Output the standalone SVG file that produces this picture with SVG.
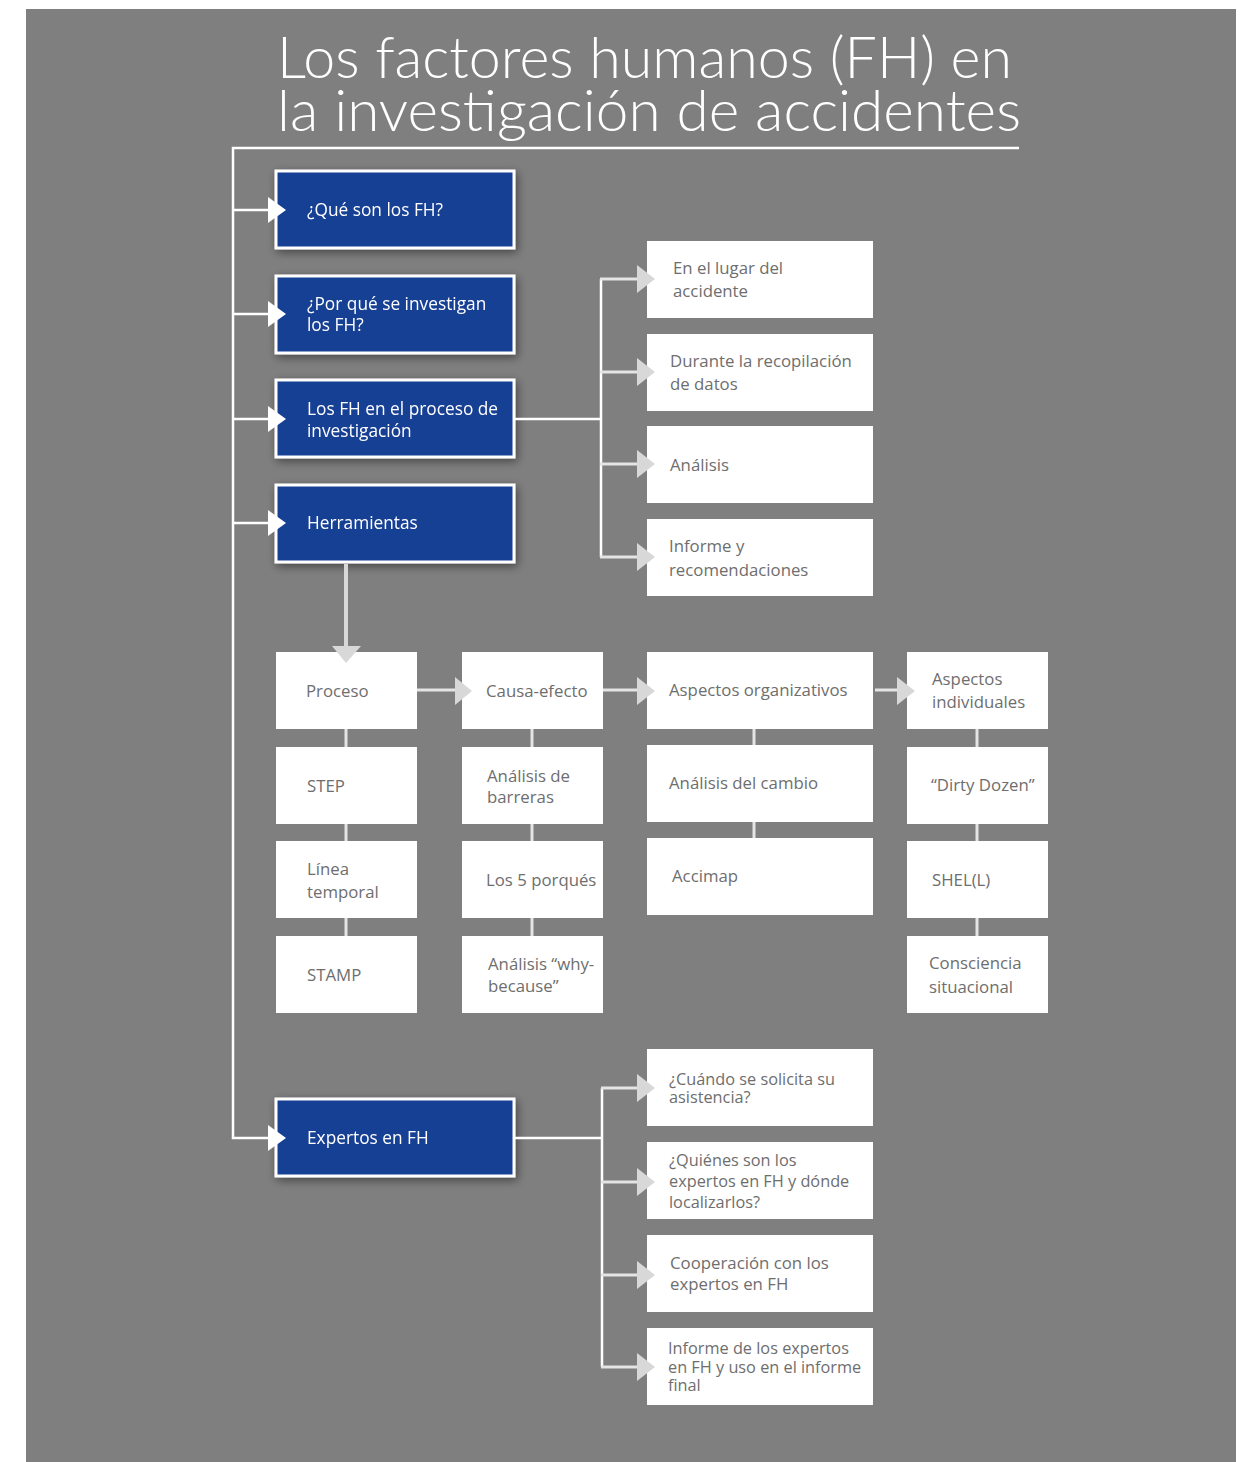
<svg xmlns="http://www.w3.org/2000/svg" width="1245" height="1462" viewBox="0 0 1245 1462">
<defs>
<filter id="sh" x="-20%" y="-30%" width="140%" height="170%">
<feDropShadow dx="2" dy="3" stdDeviation="5" flood-color="#000" flood-opacity="0.45"/>
</filter>
<style>
.title{font-family:Lato,"Open Sans",sans-serif;font-weight:300;font-size:57px;fill:#fff}
.bt{font-family:"Open Sans","Noto Sans",sans-serif;font-size:17.3px;fill:#fff}
.wt{font-family:"Open Sans","Noto Sans",sans-serif;font-size:16.8px;fill:#6e6e6e}
.ws{font-family:"Open Sans","Noto Sans",sans-serif;font-size:16.3px;fill:#6e6e6e}
.blue{fill:#183f93;stroke:#fff;stroke-width:3}
.wb{fill:#fff}
.ln{fill:none;stroke:#fff;stroke-width:2.5}
.lg{fill:none;stroke:#e4e4e4;stroke-width:3}
.ahw{fill:#fff}
.ahg{fill:#d8d8d8}
</style>
</defs>
<rect x="0" y="0" width="1245" height="1462" fill="#fff"/>
<rect x="26" y="9" width="1210" height="1453" fill="#7f7f7f"/>
<g id="title">
<text class="title" x="277" y="78" textLength="735" lengthAdjust="spacingAndGlyphs">Los factores humanos (FH) en</text>
<text class="title" x="277" y="131" textLength="744" lengthAdjust="spacingAndGlyphs">la investigación de accidentes</text>
</g>
<g id="n-que" filter="url(#sh)"><rect class="blue" x="276" y="171" width="238" height="77"/><text class="bt" x="307" y="216">¿Qué son los FH?</text></g>
<g id="n-por" filter="url(#sh)"><rect class="blue" x="276" y="276" width="238" height="77"/><text class="bt" x="307" y="310">¿Por qué se investigan</text><text class="bt" x="307" y="331">los FH?</text></g>
<g id="n-proc" filter="url(#sh)"><rect class="blue" x="276" y="380" width="238" height="77"/><text class="bt" x="307" y="415">Los FH en el proceso de</text><text class="bt" x="307" y="437">investigación</text></g>
<g id="n-herr" filter="url(#sh)"><rect class="blue" x="276" y="485" width="238" height="77"/><text class="bt" x="307" y="529">Herramientas</text></g>
<g id="n-exp" filter="url(#sh)"><rect class="blue" x="276" y="1099" width="238" height="77"/><text class="bt" x="307" y="1144">Expertos en FH</text></g>
<g id="n-lugar"><rect class="wb" x="647" y="241" width="226" height="77"/><text class="wt" x="673" y="274">En el lugar del</text><text class="wt" x="673" y="297">accidente</text></g>
<g id="n-durante"><rect class="wb" x="647" y="334" width="226" height="77"/><text class="wt" x="670" y="367">Durante la recopilación</text><text class="wt" x="670" y="390">de datos</text></g>
<g id="n-analisis"><rect class="wb" x="647" y="426" width="226" height="77"/><text class="wt" x="670" y="471">Análisis</text></g>
<g id="n-informe"><rect class="wb" x="647" y="519" width="226" height="77"/><text class="wt" x="669" y="552">Informe y</text><text class="wt" x="669" y="576">recomendaciones</text></g>
<g id="n-proceso"><rect class="wb" x="276" y="652" width="141" height="77"/><text class="wt" x="306" y="697">Proceso</text></g>
<g id="n-causa"><rect class="wb" x="462" y="652" width="141" height="77"/><text class="wt" x="486" y="697">Causa-efecto</text></g>
<g id="n-org"><rect class="wb" x="647" y="652" width="226" height="77"/><text class="wt" x="669" y="696">Aspectos organizativos</text></g>
<g id="n-ind"><rect class="wb" x="907" y="652" width="141" height="77"/><text class="wt" x="932" y="685">Aspectos</text><text class="wt" x="932" y="708">individuales</text></g>
<g id="n-step"><rect class="wb" x="276" y="747" width="141" height="77"/><text class="wt" x="307" y="792">STEP</text></g>
<g id="n-barreras"><rect class="wb" x="462" y="747" width="141" height="77"/><text class="wt" x="487" y="782">Análisis de</text><text class="wt" x="487" y="803">barreras</text></g>
<g id="n-cambio"><rect class="wb" x="647" y="745" width="226" height="77"/><text class="wt" x="669" y="789">Análisis del cambio</text></g>
<g id="n-dirty"><rect class="wb" x="907" y="747" width="141" height="77"/><text class="wt" x="931" y="791">“Dirty Dozen”</text></g>
<g id="n-linea"><rect class="wb" x="276" y="841" width="141" height="77"/><text class="wt" x="307" y="875">Línea</text><text class="wt" x="307" y="898">temporal</text></g>
<g id="n-5"><rect class="wb" x="462" y="841" width="141" height="77"/><text class="wt" x="486" y="886">Los 5 porqués</text></g>
<g id="n-accimap"><rect class="wb" x="647" y="838" width="226" height="77"/><text class="wt" x="672" y="882">Accimap</text></g>
<g id="n-shel"><rect class="wb" x="907" y="841" width="141" height="77"/><text class="wt" x="932" y="886">SHEL(L)</text></g>
<g id="n-stamp"><rect class="wb" x="276" y="936" width="141" height="77"/><text class="wt" x="307" y="981">STAMP</text></g>
<g id="n-why"><rect class="wb" x="462" y="936" width="141" height="77"/><text class="wt" x="488" y="970">Análisis “why-</text><text class="wt" x="488" y="992">because”</text></g>
<g id="n-consc"><rect class="wb" x="907" y="936" width="141" height="77"/><text class="wt" x="929" y="969">Consciencia</text><text class="wt" x="929" y="993">situacional</text></g>
<g id="n-cuando"><rect class="wb" x="647" y="1049" width="226" height="77"/><text class="ws" x="669" y="1085">¿Cuándo se solicita su</text><text class="ws" x="669" y="1103">asistencia?</text></g>
<g id="n-quienes"><rect class="wb" x="647" y="1142" width="226" height="77"/><text class="ws" x="669" y="1166">¿Quiénes son los</text><text class="ws" x="669" y="1187">expertos en FH y dónde</text><text class="ws" x="669" y="1208">localizarlos?</text></g>
<g id="n-coop"><rect class="wb" x="647" y="1235" width="226" height="77"/><text class="wt" x="670" y="1269">Cooperación con los</text><text class="wt" x="670" y="1290">expertos en FH</text></g>
<g id="n-infexp"><rect class="wb" x="647" y="1328" width="226" height="77"/><text class="ws" x="668" y="1354">Informe de los expertos</text><text class="ws" x="668" y="1373">en FH y uso en el informe</text><text class="ws" x="668" y="1391">final</text></g>
<g id="connectors">
<polyline class="ln" points="1019,148 233,148 233,1138 270,1138"/>
<line class="ln" x1="233" y1="210" x2="270" y2="210"/>
<line class="ln" x1="233" y1="314" x2="270" y2="314"/>
<line class="ln" x1="233" y1="419" x2="270" y2="419"/>
<line class="ln" x1="233" y1="523" x2="270" y2="523"/>
<polygon class="ahw" points="268,197 286,210 268,223"/>
<polygon class="ahw" points="268,301 286,314 268,327"/>
<polygon class="ahw" points="268,406 286,419 268,432"/>
<polygon class="ahw" points="268,510 286,523 268,536"/>
<polygon class="ahw" points="268,1125 286,1138 268,1151"/>
<polyline class="ln" points="515,419 601,419"/>
<line class="ln" x1="601" y1="279" x2="601" y2="557"/>
<line class="lg" x1="600" y1="279" x2="638" y2="279"/>
<line class="lg" x1="600" y1="372" x2="638" y2="372"/>
<line class="lg" x1="600" y1="464" x2="638" y2="464"/>
<line class="lg" x1="600" y1="557" x2="638" y2="557"/>
<polygon class="ahg" points="637,265 655,279 637,293"/>
<polygon class="ahg" points="637,358 655,372 637,386"/>
<polygon class="ahg" points="637,450 655,464 637,478"/>
<polygon class="ahg" points="637,543 655,557 637,571"/>
<line x1="346" y1="564" x2="346" y2="647" stroke="#d8d8d8" stroke-width="4"/>
<polygon class="ahg" points="332,646 361,646 346,663"/>
<line class="lg" x1="417" y1="690" x2="457" y2="690"/>
<polygon class="ahg" points="455,677 472,691 455,705"/>
<line class="lg" x1="603" y1="690" x2="639" y2="690"/>
<polygon class="ahg" points="637,677 655,691 637,705"/>
<line class="lg" x1="875" y1="690" x2="899" y2="690"/>
<polygon class="ahg" points="897,677 915,691 897,705"/>
<line class="lg" x1="346" y1="729" x2="346" y2="747"/>
<line class="lg" x1="346" y1="824" x2="346" y2="841"/>
<line class="lg" x1="346" y1="918" x2="346" y2="936"/>
<line class="lg" x1="532" y1="729" x2="532" y2="747"/>
<line class="lg" x1="532" y1="824" x2="532" y2="841"/>
<line class="lg" x1="532" y1="918" x2="532" y2="936"/>
<line class="lg" x1="754" y1="729" x2="754" y2="745"/>
<line class="lg" x1="754" y1="822" x2="754" y2="838"/>
<line class="lg" x1="977" y1="729" x2="977" y2="747"/>
<line class="lg" x1="977" y1="824" x2="977" y2="841"/>
<line class="lg" x1="977" y1="918" x2="977" y2="936"/>
<polyline class="ln" points="515,1138 602,1138"/>
<line class="ln" x1="602" y1="1088" x2="602" y2="1367"/>
<line class="lg" x1="601" y1="1088" x2="638" y2="1088"/>
<line class="lg" x1="601" y1="1182" x2="638" y2="1182"/>
<line class="lg" x1="601" y1="1275" x2="638" y2="1275"/>
<line class="lg" x1="601" y1="1367" x2="638" y2="1367"/>
<polygon class="ahg" points="637,1074 655,1088 637,1102"/>
<polygon class="ahg" points="637,1168 655,1182 637,1196"/>
<polygon class="ahg" points="637,1261 655,1275 637,1289"/>
<polygon class="ahg" points="637,1353 655,1367 637,1381"/>
</g>
</svg>
